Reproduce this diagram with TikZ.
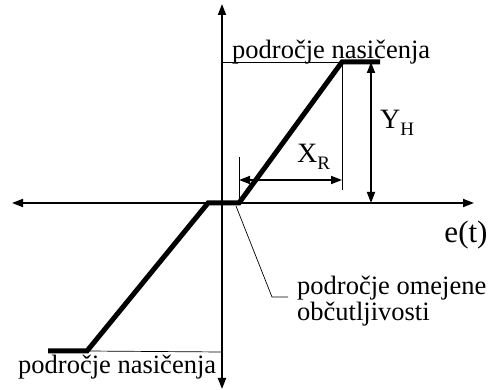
\documentclass[tikz,border=0pt]{standalone}
\usepackage{fontspec}
\setmainfont{Liberation Serif}
\usetikzlibrary{arrows.meta,positioning}
\newcommand{\lowsub}[1]{\raisebox{-7pt}{\fontsize{19}{20}\selectfont #1}}

\begin{document}
\begin{tikzpicture}[x=1pt, y=-1pt, >={Triangle[length=11pt,width=8pt]},
  font=\fontsize{26.5}{29}\selectfont,
  axis/.style={line width=1.8pt, <->},
  charline/.style={line width=5pt, line join=miter},
  guide/.style={line width=0.7pt},
  dim/.style={line width=1.8pt, <->},
  lbl/.style={inner sep=0pt},
  dimlbl/.style={lbl, anchor=base west, font=\fontsize{28}{30}\selectfont}]
\useasboundingbox (0,0) rectangle (496,390);
% axes
\coordinate (xl) at (12,203);
\coordinate (xr) at (474,203);
\coordinate (yt) at (222,4);
\coordinate (yb) at (222,389);
\draw[axis] (xl) -- (xr);
\draw[axis] (yb) -- (yt);
% characteristic
\coordinate (s1) at (48,351);
\coordinate (s2) at (87,351);
\coordinate (d1) at (208,203);
\coordinate (d2) at (239,203);
\coordinate (s3) at (342,62);
\coordinate (s4) at (380,62);
\draw[charline] (s1) -- (s2) -- (d1) -- (d2) -- (s3) -- (s4);
% guide lines
\coordinate (gt) at (222,62);
\coordinate (gb) at (222,352);
\coordinate (xrb) at (342,190);
\coordinate (xlt) at (239,157);
\draw[guide] (gt) -- (s3) -- (xrb);
\draw[guide] (d2) -- (xlt);
\draw[guide] (s2) -- (gb);
% dimensions
\coordinate (xa) at (239,180);
\coordinate (xb) at (342,180);
\coordinate (ya) at (371,62);
\coordinate (yc) at (371,203);
\draw[dim] (xa) -- (xb);
\draw[dim] (ya) -- (yc);
% labels
\node[lbl, anchor=base west] (satup) at (232,59) {področje nasičenja};
\node[lbl, anchor=base west] (satdn) at (18,374) {področje nasičenja};
\node[dimlbl] (yh) at (380,129) {Y\lowsub{H}};
\node[dimlbl] (xrl) at (297,163) {X\lowsub{R}};
\node[lbl, font=\fontsize{31}{34}\selectfont] (et) at (466,235) {e(t)};
\node[lbl, anchor=base west] (dz1) at (297,295) {področje omejene};
\node[lbl, anchor=base west] (dz2) at (297,321) {občutljivosti};
% leader
\coordinate (la) at (236,206);
\coordinate (lk) at (272,297);
\coordinate (le) at (288,297);
\draw[guide] (la) -- (lk) -- (le);
\end{tikzpicture}
\end{document}
